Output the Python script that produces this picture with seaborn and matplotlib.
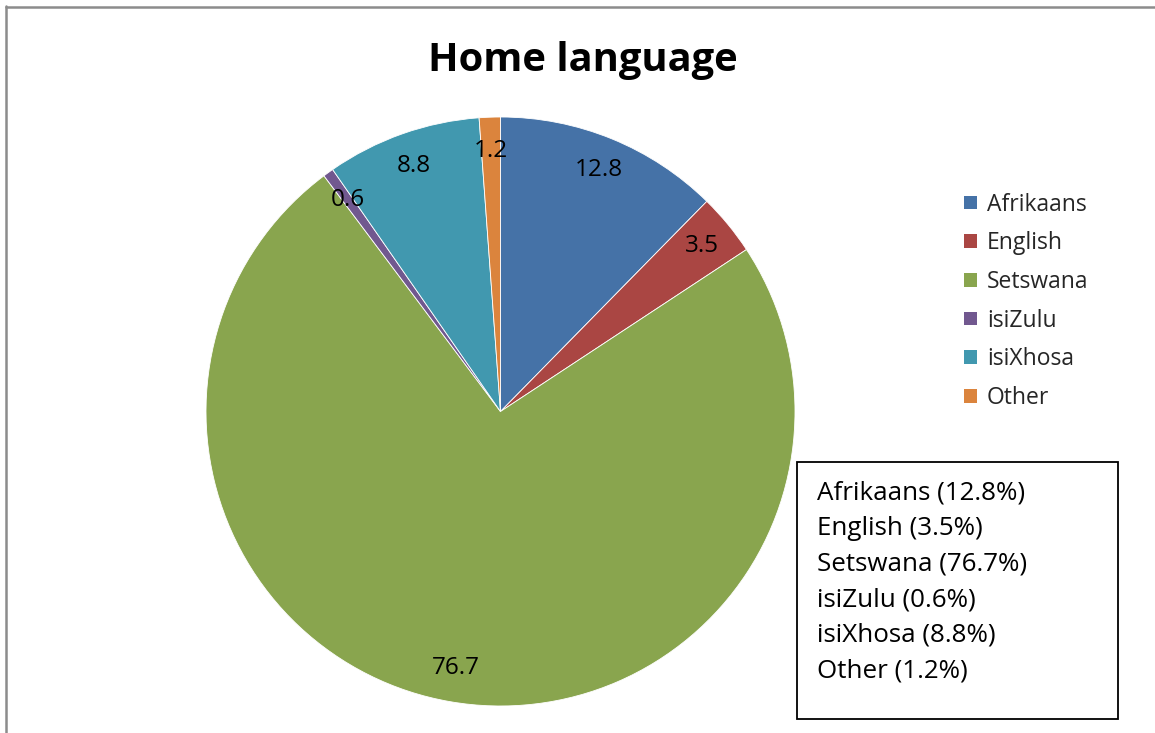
import matplotlib
matplotlib.use("Agg")
import matplotlib.pyplot as plt
from matplotlib.lines import Line2D
from matplotlib.patches import Rectangle
import seaborn as sns

# Home language shares
languages = ["Afrikaans", "English", "Setswana", "isiZulu", "isiXhosa", "Other"]
shares = [12.8, 3.5, 76.7, 0.6, 8.8, 1.2]
colors = ["#4572A7", "#AA4643", "#89A54E", "#71588F", "#4198AF", "#DB843D"]

sns.set_theme(style="white")
plt.rcParams["font.family"] = ["Open Sans", "DejaVu Sans"]

W, H = 1155, 733
fig = plt.figure(figsize=(W / 100, H / 100), dpi=100)
fig.patch.set_facecolor("white")

# pie axes, square, in pixel coordinates
cx, cy, r = 500.5, 411.5, 294.5
ax = fig.add_axes([(cx - r) / W, (H - cy - r) / H, 2 * r / W, 2 * r / H])
wedges, texts = ax.pie(
    shares,
    colors=sns.color_palette(colors),
    startangle=90,
    counterclock=False,
    labels=[f"{v:g}" for v in shares],
    labeldistance=0.885,
    wedgeprops=dict(edgecolor="white", linewidth=0.6),
    textprops=dict(fontsize=17.5, color="black"),
)
for t in texts:
    t.set_ha("center")
    t.set_va("center")
ax.set_xlim(-1, 1)
ax.set_ylim(-1, 1)
ax.set_aspect("equal")
ax.axis("off")

fig.text(583 / W, 1 - 60 / H, "Home language", ha="center", va="center",
         fontsize=28.7, fontweight="bold", color="black")

# legend with square swatches
handles = [Rectangle((0, 0), 1, 1, facecolor=c, edgecolor="none") for c in colors]
fig.legend(handles, languages, loc="upper left",
           bbox_to_anchor=(955 / W, 1 - 183.5 / H), frameon=False,
           fontsize=16.5, handlelength=0.55, handleheight=0.55,
           handletextpad=0.45, labelspacing=0.64, borderaxespad=0)

# summary box
box = Rectangle((797 / W, 1 - 719 / H), (1118 - 797) / W, (719 - 462) / H,
                transform=fig.transFigure, facecolor="white", edgecolor="black",
                linewidth=1.3)
fig.add_artist(box)
line_y = [493, 528.5, 564, 600, 635.5, 671]
for name, v, y in zip(languages, shares, line_y):
    fig.text(817 / W, 1 - y / H, f"{name} ({v:g}%)", ha="left", va="center",
             fontsize=18.7, color="black")

# outer chart frame (top and left edges)
frame_kw = dict(transform=fig.transFigure, color="#8c8c8c", linewidth=1.8)
fig.add_artist(Line2D([5.5 / W, 5.5 / W], [0, 1 - 6 / H], **frame_kw))
fig.add_artist(Line2D([5.5 / W, 1], [1 - 6.5 / H, 1 - 6.5 / H], **frame_kw))

fig.savefig("out.png", dpi=100, facecolor="white")
